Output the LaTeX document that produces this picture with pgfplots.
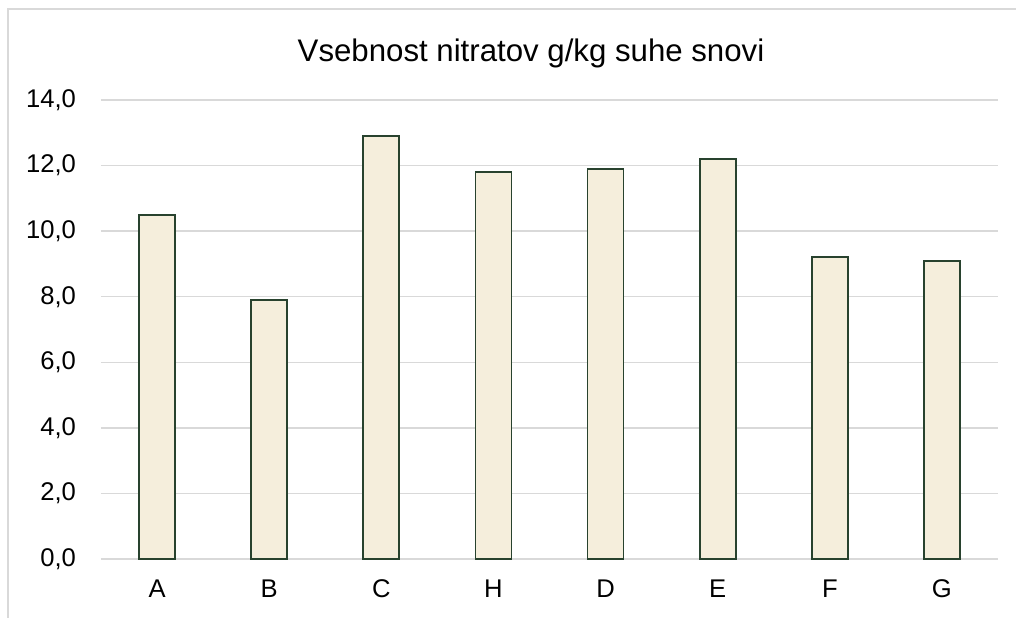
\documentclass[border=0pt]{standalone}
\usepackage{pgfplots}
\pgfplotsset{compat=1.18}
\usepackage{fontspec}
\setmainfont{Liberation Sans}
\definecolor{barfill}{RGB}{245,238,220}
\definecolor{baredge}{RGB}{40,66,46}
\definecolor{gridc}{RGB}{217,217,217}
\begin{document}
\begin{tikzpicture}
\useasboundingbox (0,0) rectangle (508pt,308.5pt);
\draw[gridc, line width=0.75pt] (4pt,-20pt) -- (4pt,304pt) -- (530pt,304pt);
\node[font=\fontsize{15.6}{18}\selectfont, anchor=center] at (265.5pt,282pt) {Vsebnost nitratov g/kg suhe snovi};
\begin{axis}[
  at={(50.5pt,29pt)}, anchor=south west,
  scale only axis, width=448.5pt, height=229.5pt,
  xmin=-0.5, xmax=7.5, ymin=0, ymax=14,
  ytick={0,2,...,14}, xtick={0,...,7},
  xticklabels={A,B,C,H,D,E,F,G},
  ybar, bar width=18pt,
  ymajorgrids, grid style={gridc, line width=0.75pt},
  axis line style={draw=none},
  major tick length=0pt,
  tick label style={font=\fontsize{12.8}{15}\selectfont},
  xticklabel style={yshift=-7pt},
  yticklabel style={xshift=-9pt},
  /pgf/number format/.cd, fixed, fixed zerofill, precision=1, use comma, assume math mode=true,
]
\addplot[fill=barfill, draw=baredge, line width=0.9pt] coordinates {
(0,10.5) (1,7.9) (2,12.9) (3,11.8) (4,11.9) (5,12.2) (6,9.2) (7,9.1)};
\end{axis}
\end{tikzpicture}
\end{document}
